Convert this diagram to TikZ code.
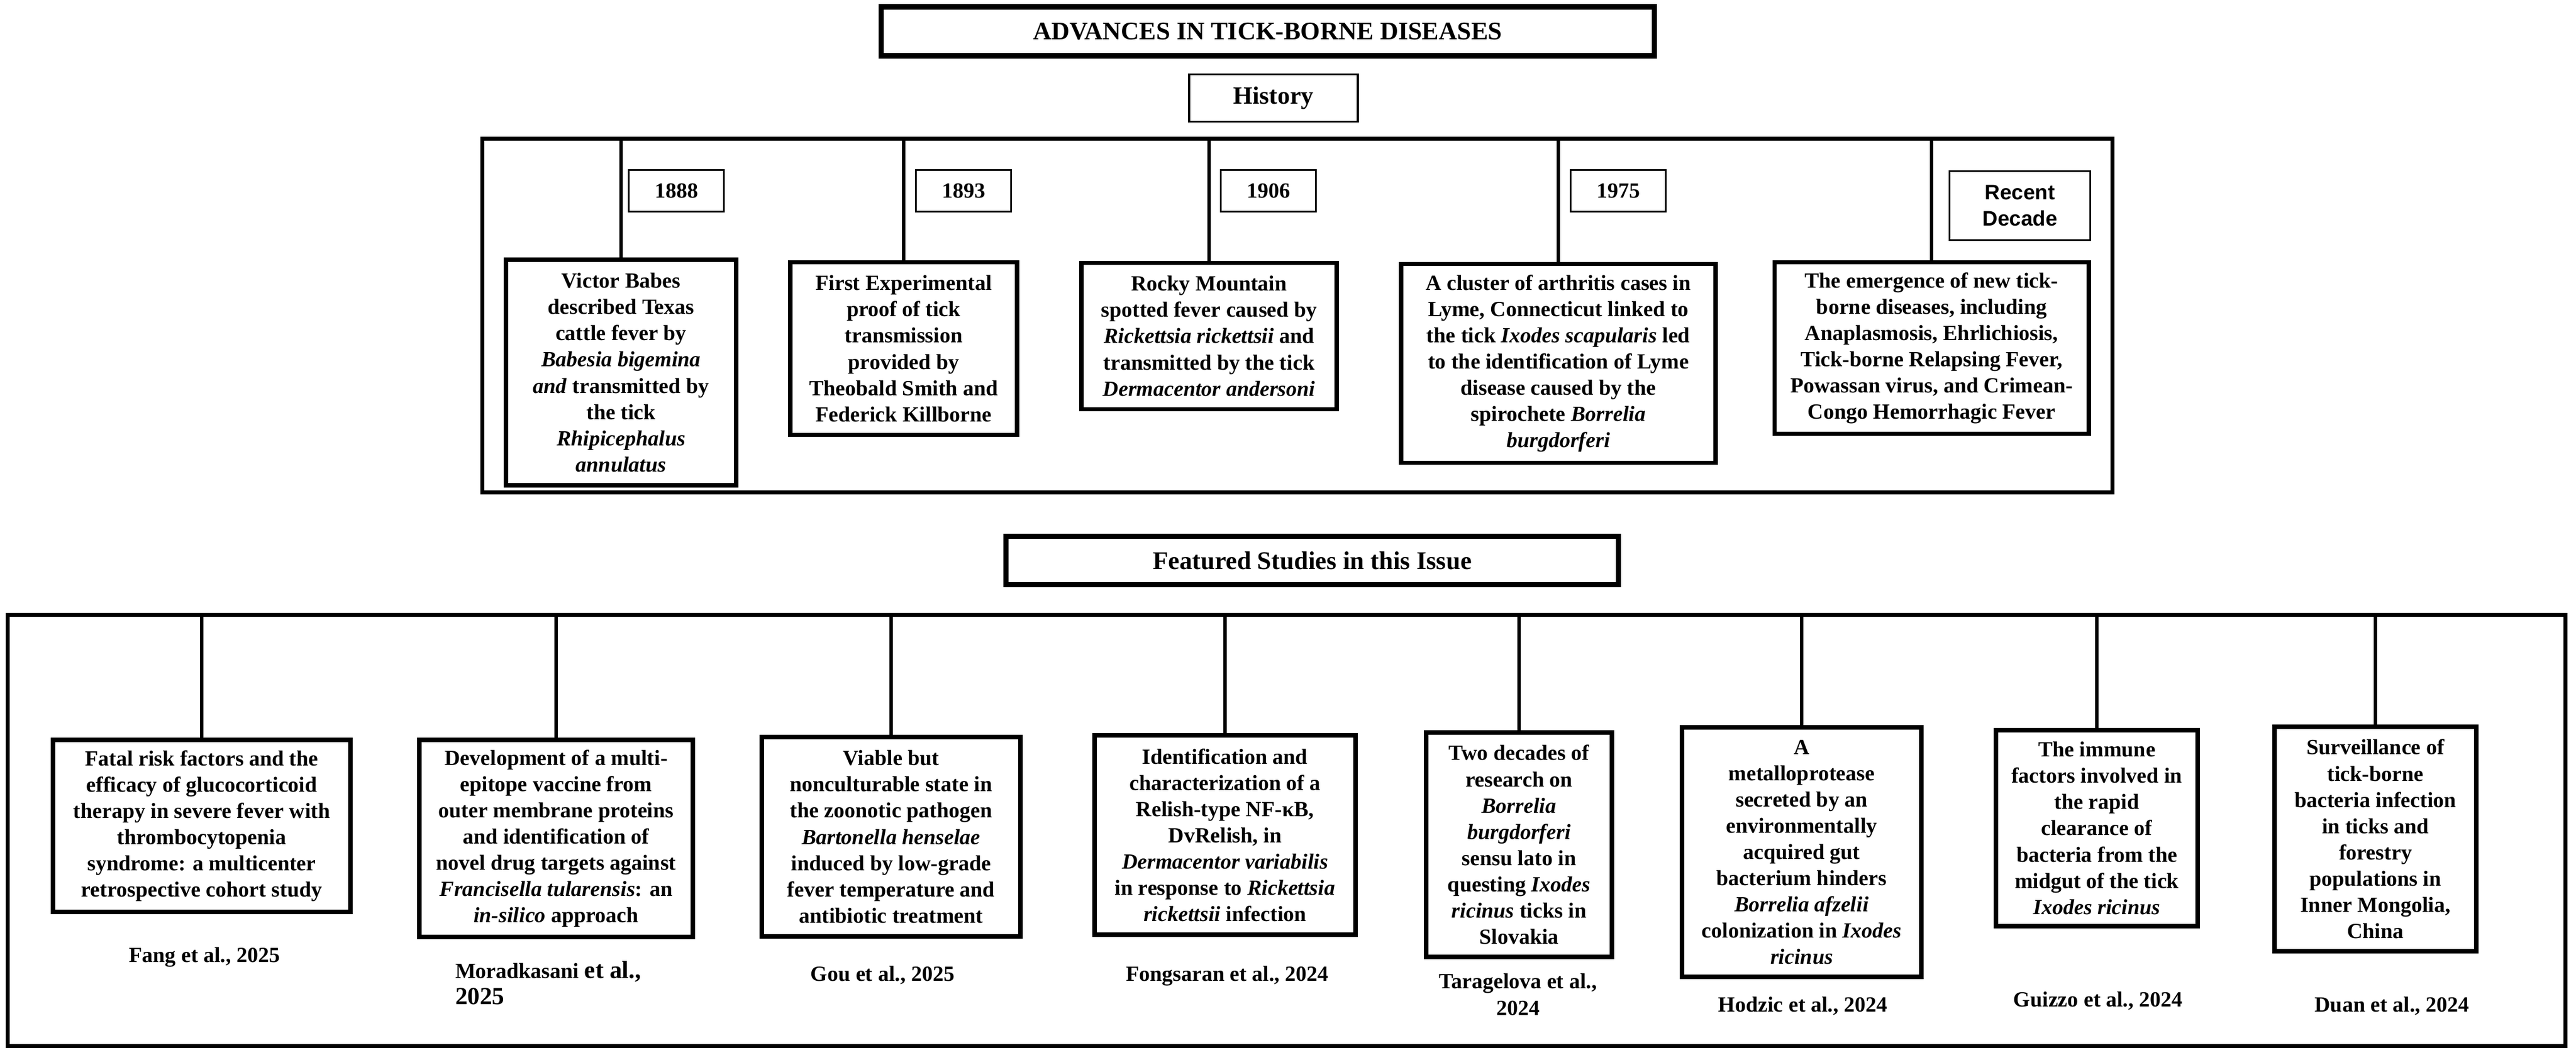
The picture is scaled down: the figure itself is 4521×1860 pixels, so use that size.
\documentclass[tikz,border=0pt]{standalone}
\usepackage{fontspec}
\setmainfont{Liberation Serif}
\newfontfamily\arialfont{Liberation Sans}
\usetikzlibrary{positioning}

\begin{document}
\begin{tikzpicture}[x=0.01cm,y=-0.01cm,
    every node/.style={inner sep=0pt,outer sep=0pt},
    boxtxt/.style={font=\fontsize{10.8}{13.1}\selectfont\bfseries,align=center},
    headbox/.style={draw,line width=2.6pt,font=\fontsize{12.6}{15}\selectfont\bfseries},
    framebox/.style={draw,line width=2pt,rectangle},
    eventbox/.style={draw,line width=2.2pt,boxtxt},
    studybox/.style={draw,line width=2.3pt,boxtxt},
    yearbox/.style={draw,line width=0.8pt,boxtxt},
    conn/.style={line width=1.5pt},
    refname/.style={boxtxt}]
  \useasboundingbox (0,0) rectangle (4521,1860);

  % titles
  \node[headbox,minimum width=13.56cm,minimum height=0.86cm] (title) at (2225,55) {ADVANCES IN TICK-BORNE DISEASES};
  \node[headbox,line width=1pt,minimum width=2.96cm,minimum height=0.83cm,font=\fontsize{12.4}{15}\selectfont\bfseries] (hist) at (2235,172) {History};
  \node[headbox,minimum width=10.74cm,minimum height=0.85cm,font=\fontsize{12.7}{15}\selectfont\bfseries] (feat) at (2303,984) {Featured Studies in this Issue};

  % history
  \node[framebox,minimum width=28.60cm,minimum height=6.21cm] (histframe) at (2277,554) {};
  \node[eventbox,minimum width=4.04cm,minimum height=3.96cm] (h1) at (1090,654) {Victor Babes\\described Texas\\cattle fever by\\\textit{Babesia bigemina}\\\textit{and} transmitted by\\the tick\\\textit{Rhipicephalus}\\\textit{annulatus}};
  \node[eventbox,minimum width=3.98cm,minimum height=3.03cm] (h2) at (1586,612) {First Experimental\\proof of tick\\transmission\\provided by\\Theobald Smith and\\Federick Killborne};
  \node[eventbox,minimum width=4.48cm,minimum height=2.57cm] (h3) at (2122,590) {Rocky Mountain\\spotted fever caused by\\\textit{Rickettsia rickettsii} and\\transmitted by the tick\\\textit{Dermacentor andersoni}};
  \node[eventbox,minimum width=5.52cm,minimum height=3.49cm] (h4) at (2735,638) {A cluster of arthritis cases in\\Lyme, Connecticut linked to\\the tick \textit{Ixodes scapularis} led\\to the identification of Lyme\\disease caused by the\\spirochete \textit{Borrelia}\\\textit{burgdorferi}};
  \node[eventbox,minimum width=5.51cm,minimum height=3.01cm] (h5) at (3390,611) {The emergence of new tick-\\borne diseases, including\\Anaplasmosis, Ehrlichiosis,\\Tick-borne Relapsing Fever,\\Powassan virus, and Crimean-\\Congo Hemorrhagic Fever};
  \foreach \n/\x/\yr in {1/1187/1888,2/1691/1893,3/2226/1906,4/2840/1975}{
    \node[yearbox,minimum width=1.67cm,minimum height=0.73cm] (yr\n) at (\x,335) {\yr};
  }
  \node[yearbox,minimum width=2.47cm,minimum height=1.21cm,font=\arialfont\fontsize{10.5}{13}\selectfont\bfseries] (yr5) at (3545,361) {Recent\\Decade};
  \foreach \n in {1,...,5}
    \draw[conn] (h\n.north |- histframe.north) -- (h\n.north);

  % featured studies
  \node[framebox,minimum width=44.87cm,minimum height=7.57cm] (featframe) at (2258,1458) {};
  \node[studybox,minimum width=5.21cm,minimum height=3.01cm] (sA) at (354,1450) {Fatal risk factors and the\\efficacy of glucocorticoid\\therapy in severe fever with\\thrombocytopenia\\syndrome: a multicenter\\retrospective cohort study};
  \node[studybox,minimum width=4.79cm,minimum height=3.45cm] (sB) at (976,1472) {Development of a multi-\\epitope vaccine from\\outer membrane proteins\\and identification of\\novel drug targets against\\\textit{Francisella tularensis}: an\\\textit{in-silico} approach};
  \node[studybox,minimum width=4.54cm,minimum height=3.49cm] (sC) at (1564,1469) {Viable but\\nonculturable state in\\the zoonotic pathogen\\\textit{Bartonella henselae}\\induced by low-grade\\fever temperature and\\antibiotic treatment};
  \node[studybox,minimum width=4.57cm,minimum height=3.49cm] (sD) at (2150,1466) {Identification and\\characterization of a\\Relish-type NF-κB,\\DvRelish, in\\\textit{Dermacentor variabilis}\\in response to \textit{Rickettsia}\\\textit{rickettsii} infection};
  \node[studybox,minimum width=3.25cm,minimum height=3.93cm] (sE) at (2666,1483) {Two decades of\\research on\\\textit{Borrelia}\\\textit{burgdorferi}\\sensu lato in\\questing \textit{Ixodes}\\\textit{ricinus} ticks in\\Slovakia};
  \node[studybox,minimum width=4.20cm,minimum height=4.38cm] (sF) at (3162,1496) {A\\metalloprotease\\secreted by an\\environmentally\\acquired gut\\bacterium hinders\\\textit{Borrelia afzelii}\\colonization in \textit{Ixodes}\\\textit{ricinus}};
  \node[studybox,minimum width=3.54cm,minimum height=3.44cm] (sG) at (3680,1454) {The immune\\factors involved in\\the rapid\\clearance of\\bacteria from the\\midgut of the tick\\\textit{Ixodes ricinus}};
  \node[studybox,minimum width=3.54cm,minimum height=3.93cm] (sH) at (4169,1473) {Surveillance of\\tick-borne\\bacteria infection\\in ticks and\\forestry\\populations in\\Inner Mongolia,\\China};
  \foreach \n in {A,B,C,D,E,F,G,H}
    \draw[conn] (s\n.north |- featframe.north) -- (s\n.north);

  % references
  \node[refname] (rA) at (359,1680) {Fang et al., 2025};
  \node[refname,anchor=west,align=left] (rB) at (799,1726) {Moradkasani {\fontsize{12.3}{14.8}\selectfont et al.,}\\{\fontsize{12.3}{14.8}\selectfont 2025}};
  \node[refname] (rC) at (1549,1712) {Gou et al., 2025};
  \node[refname] (rD) at (2154,1713) {Fongsaran et al., 2024};
  \node[refname] (rE) at (2664,1746) {Taragelova et al.,\\2024};
  \node[refname] (rF) at (3164,1766) {Hodzic et al., 2024};
  \node[refname] (rG) at (3682,1757) {Guizzo et al., 2024};
  \node[refname] (rH) at (4198,1766) {Duan et al., 2024};
\end{tikzpicture}
\end{document}
